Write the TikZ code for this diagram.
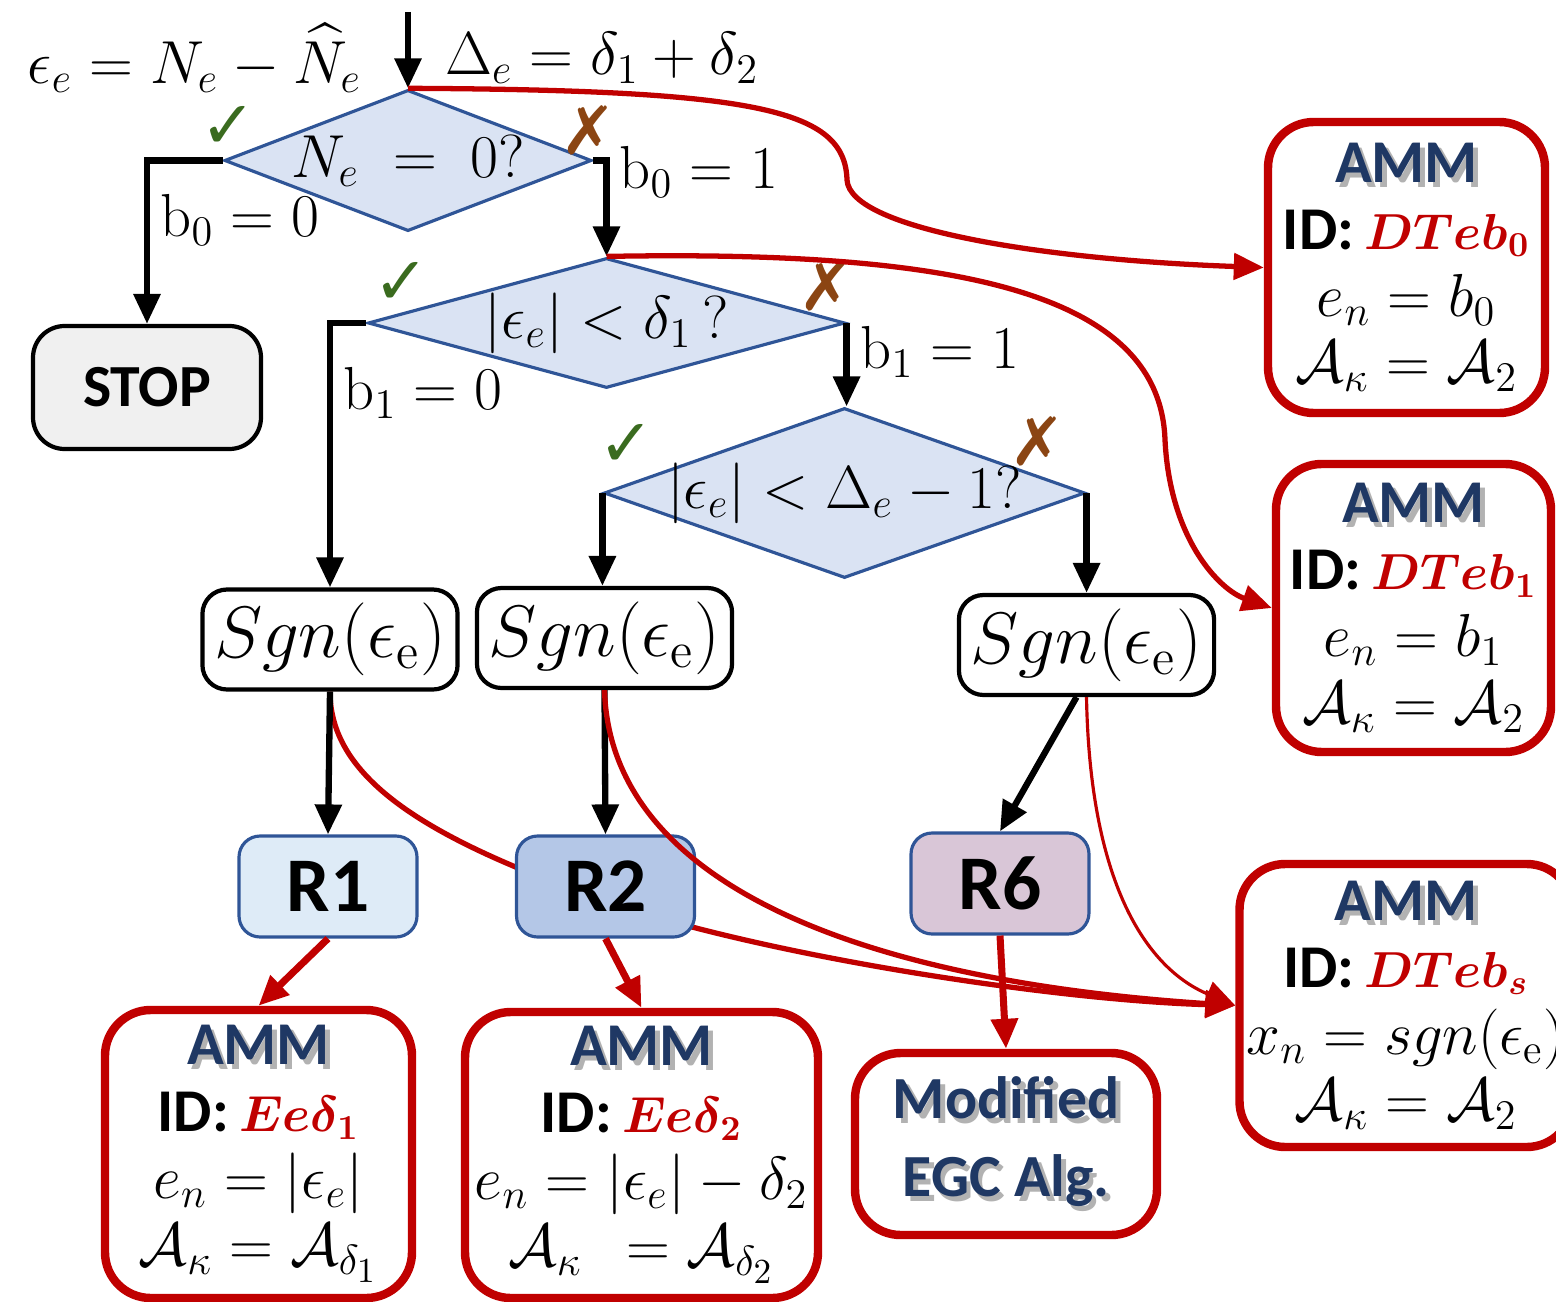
\documentclass[tikz,border=0pt]{standalone}
\usepackage{amsmath, amssymb}
\usepackage{fontspec}
\newfontfamily\calfont{Carlito}
\newfontfamily\symfont{DejaVu Sans}
\usetikzlibrary{positioning,arrows.meta,shapes.geometric,backgrounds}
\definecolor{ammred}{HTML}{C00000}
\definecolor{ammblue}{HTML}{1F3864}
\definecolor{edgeblue}{HTML}{2F5597}
\definecolor{diafill}{HTML}{DAE3F3}
\definecolor{ronefill}{HTML}{DEEBF7}
\definecolor{rtwofill}{HTML}{B4C7E7}
\definecolor{rsixfill}{HTML}{D9C6D7}
\definecolor{okgreen}{HTML}{3A6B1F}
\definecolor{nobrown}{HTML}{8B4513}
\newcommand{\navytxt}[1]{\makebox[0pt][l]{\kern1.4pt\raisebox{-1.4pt}{\textcolor{black!30}{#1}}}\textcolor{ammblue}{#1}}
\newcommand{\idline}[1]{{\calfont\bfseries ID:}\,{\fontsize{14.4}{19}\selectfont\textcolor{ammred}{$\boldsymbol{#1}$}}}
\tikzset{
  flowarrow/.style={-{Triangle[length=3mm,width=2.6mm]}, line width=1.8pt},
  redarrow/.style={-{Triangle[length=3mm,width=2.6mm]}, line width=1.5pt, draw=ammred},
  decision/.style={diamond, draw=edgeblue, line width=0.9pt, fill=diafill, inner sep=0pt, font=\fontsize{17.28}{20}\selectfont},
  signbox/.style={draw, rounded corners=7pt, line width=1.2pt, fill=white, minimum width=2.42cm, minimum height=1.0cm, font=\fontsize{20.74}{24}\selectfont},
  regbox/.style={draw=edgeblue, rounded corners=6pt, line width=0.9pt, minimum width=1.78cm, minimum height=1.01cm, font=\calfont\bfseries\fontsize{22}{24}\selectfont},
  stopbox/.style={draw, rounded corners=9pt, line width=1.2pt, fill=black!6, minimum width=2.28cm, minimum height=1.23cm, font=\calfont\bfseries\fontsize{17}{20}\selectfont},
  ammbox/.style={draw=ammred, rounded corners=13pt, line width=2.4pt, fill=white, align=center, inner sep=2pt, font=\fontsize{17.28}{19}\selectfont},
  branch/.style={font=\fontsize{17.28}{20}\selectfont},
  yesmark/.style={text=okgreen, font=\symfont\fontsize{19}{20}\selectfont},
  nomark/.style={text=nobrown, font=\symfont\bfseries\fontsize{19}{20}\selectfont}
}

\begin{document}
\begin{tikzpicture}
  \useasboundingbox (0,0) rectangle (15.56,-13.02);

  % decisions
  \coordinate (start) at (4.08,-0.12);
  \node[decision, aspect=2.6, minimum width=3.52cm, minimum height=1.35cm] (dzero) at (4.08,-1.605) {$N_e \;=\; 0?$};
  \node[decision, aspect=3.67, minimum width=4.77cm, minimum height=1.30cm] (done) at (6.065,-3.23) {$|\epsilon_e| < \delta_1\,?$};
  \node[decision, aspect=2.83, inner xsep=-3mm, minimum width=4.81cm, minimum height=1.70cm] (dtwo) at (8.445,-4.93) {$|\epsilon_e| < \Delta_e - 1?$};

  \node[branch, anchor=east] (epslab) at (3.74,-0.58) {$\epsilon_e = N_e - \widehat{N}_e$};
  \node[branch] (dellab) at (6.02,-0.58) {$\Delta_e = \delta_1 + \delta_2$};
  \node[branch] (bzz) at (2.40,-2.20) {$\mathrm{b}_0 = 0$};
  \node[branch] (bzo) at (6.99,-1.72) {$\mathrm{b}_0 = 1$};
  \node[branch] (boz) at (4.23,-3.93) {$\mathrm{b}_1 = 0$};
  \node[branch] (boo) at (9.40,-3.52) {$\mathrm{b}_1 = 1$};

  \node[yesmark] (yzero) at (2.28,-1.27) {✓};
  \node[nomark] (nzero) at (5.88,-1.30) {✗};
  \node[yesmark] (yone) at (4.01,-2.83) {✓};
  \node[nomark] (none) at (8.26,-2.86) {✗};
  \node[yesmark] (ytwo) at (6.26,-4.45) {✓};
  \node[nomark] (ntwo) at (10.37,-4.41) {✗};

  % boxes
  \node[stopbox] (stop) at (1.47,-3.875) {STOP};
  \node[signbox] (sgnone) at (3.30,-6.395) {$Sgn(\epsilon_{\mathrm{e}})$};
  \node[signbox] (sgntwo) at (6.045,-6.38) {$Sgn(\epsilon_{\mathrm{e}})$};
  \node[signbox] (sgnsix) at (10.865,-6.45) {$Sgn(\epsilon_{\mathrm{e}})$};
  \node[regbox, fill=ronefill] (rone) at (3.28,-8.865) {R1};
  \node[regbox, fill=rtwofill] (rtwo) at (6.055,-8.865) {R2};
  \node[regbox, fill=rsixfill] (rsix) at (10.00,-8.835) {R6};

  \node[ammbox, minimum width=3.07cm, minimum height=2.88cm] (ammdone) at (2.585,-11.54)
    {{\calfont\bfseries\navytxt{AMM}}\\ \idline{Ee\delta_1}\\ $e_n = |\epsilon_e|$\\ $\mathcal{A}_\kappa = \mathcal{A}_{\delta_1}$};
  \node[ammbox, minimum width=3.53cm, minimum height=2.86cm] (ammdtwo) at (6.415,-11.55)
    {{\calfont\bfseries\navytxt{AMM}}\\ \idline{Ee\delta_2}\\ $e_n = |\epsilon_e| - \delta_2$\\ $\mathcal{A}_\kappa \;\, = \mathcal{A}_{\delta_2}$};
  \node[ammbox, minimum width=3.02cm, minimum height=1.82cm, font=\calfont\bfseries\fontsize{17}{22}\selectfont] (egc) at (10.06,-11.44)
    {\navytxt{Modified}\\ \navytxt{EGC Alg.}};
  \node[ammbox, minimum width=2.77cm, minimum height=2.91cm] (ammbzero) at (14.065,-2.675)
    {{\calfont\bfseries\navytxt{AMM}}\\ \idline{DTeb_0}\\ $e_n = b_0$\\ $\mathcal{A}_\kappa = \mathcal{A}_2$};
  \node[ammbox, minimum width=2.75cm, minimum height=2.88cm] (ammbone) at (14.135,-6.08)
    {{\calfont\bfseries\navytxt{AMM}}\\ \idline{DTeb_1}\\ $e_n = b_1$\\ $\mathcal{A}_\kappa = \mathcal{A}_2$};
  \node[ammbox, minimum width=3.28cm, minimum height=2.83cm] (ammbs) at (14.06,-10.055)
    {{\calfont\bfseries\navytxt{AMM}}\\ \idline{DTeb_s}\\ $x_n = sgn(\epsilon_{\mathrm{e}})$\\ $\mathcal{A}_\kappa = \mathcal{A}_2$};

  % black flow
  \draw[flowarrow] (start) -- (dzero.north);
  \draw[flowarrow] (dzero.west) -| (stop.north);
  \draw[flowarrow] (dzero.east) -| (done.north);
  \draw[flowarrow] (done.west) -| (sgnone.north);
  \draw[flowarrow] (done.east) -- (done.east |- dtwo.north);
  \draw[flowarrow] (dtwo.west) -- (dtwo.west |- sgntwo.north);
  \draw[flowarrow] (dtwo.east) -- (dtwo.east |- sgnsix.north);
  \draw[flowarrow] (sgnone.south) -- (rone.north);
  \draw[flowarrow] (sgntwo.south) -- (rtwo.north);
  \draw[flowarrow] ([xshift=-1mm]sgnsix.south) -- (rsix.north);

  % red links
  \draw[redarrow, line width=2pt] (rone.south) -- (ammdone.north);
  \draw[redarrow, line width=2pt] (rtwo.south) -- (ammdtwo.north);
  \draw[redarrow, line width=2pt] (rsix.south) -- (egc.north);
  \draw[redarrow] (dzero.north) .. controls (7.6,-0.9) and (8.45,-1.1) .. (8.47,-1.8)
    .. controls (8.5,-2.3) and (10.5,-2.6) .. (ammbzero.west);
  \draw[redarrow] (done.north) .. controls (9.5,-2.5) and (11.6,-2.9) .. (11.65,-4.4)
    .. controls (11.7,-5.4) and (12.2,-5.9) .. (ammbone.west);
  \begin{pgfonlayer}{background}
    \draw[redarrow] (sgnone.south) .. controls (3.3,-7.8) and (4.3,-8.4) .. (6.05,-9.01)
      .. controls (7.6,-9.55) and (10.5,-10.0) .. (ammbs.west);
  \end{pgfonlayer}
  \draw[redarrow] (sgntwo.south) .. controls (6.1,-8.8) and (8.5,-9.8) .. (ammbs.west);
  \draw[redarrow, line width=0.9pt] (sgnsix.south) .. controls (10.9,-8.9) and (11.5,-9.7) .. (ammbs.west);
\end{tikzpicture}
\end{document}
